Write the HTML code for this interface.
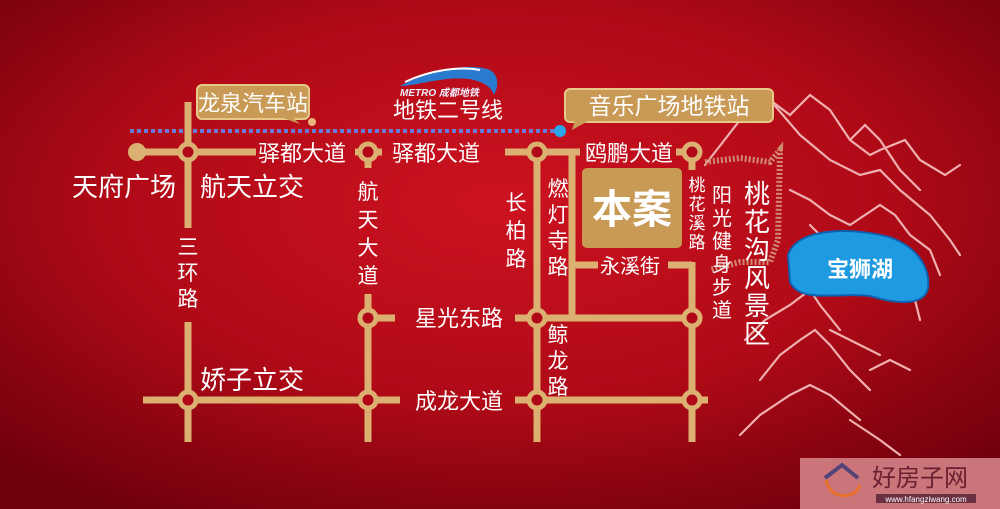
<!DOCTYPE html>
<html><head><meta charset="utf-8"><style>
body{margin:0;width:1000px;height:509px;overflow:hidden;background:#a00010}
svg{display:block}
text{font-family:"Liberation Sans","Noto Sans CJK SC",sans-serif}
</style></head><body>
<svg width="1000" height="509" viewBox="0 0 1000 509">
<defs>
<radialGradient id="bg" cx="0.5" cy="0.4" r="0.7">
<stop offset="0" stop-color="#cc1220"/><stop offset="0.55" stop-color="#b00a17"/><stop offset="1" stop-color="#70000c"/>
</radialGradient>
</defs>
<rect width="1000" height="509" fill="url(#bg)"/>
<!-- mountains -->
<g fill="none" stroke="#f0b0b0" stroke-width="2.2" stroke-linecap="round">
<path d="M705 165 L740 120 L770 100 L790 115 L810 95 L830 110 L850 140 L870 155 L880 150"/>
<path d="M770 100 L800 135 L830 160 L860 175 L880 170 L900 190 L930 215 L950 240 L960 255"/>
<path d="M850 140 L865 125 L880 140 L900 170 L920 190"/>
<path d="M880 150 L905 140 L920 160 L945 175 L960 165"/>
<path d="M790 190 L810 200 L830 215 L850 225 L865 215 L880 205 L895 215 L910 235 L930 250 L940 275"/>
<path d="M810 225 L830 245"/>
<path d="M900 280 L915 300 L920 320"/>
<path d="M745 340 L765 320 L790 305 L810 290 L820 305 L840 330"/>
<path d="M760 380 L780 355 L800 340 L815 330 L830 345 L850 370 L870 390"/>
<path d="M740 435 L760 415 L790 395 L810 385 L830 395 L860 420"/>
<path d="M830 330 L860 345 L880 355"/>
<path d="M870 370 L890 360 L910 370"/>
<path d="M850 420 L880 440 L900 455"/>
</g>
<!-- dashed trail -->
<g fill="none" stroke="#d08a70" stroke-width="6" stroke-dasharray="2 2">
<path d="M705 162 L740 158 L770 162 L780 150 L778 240 L770 262 L740 262 L710 270"/>
</g>
<!-- lake -->
<path d="M788 255 C798 225 860 228 892 238 C922 250 930 272 928 288 C925 305 900 305 870 296 C840 292 800 304 790 282 Z" fill="#1e9ae0" stroke="#1060b0" stroke-width="2"/>
<text x="860" y="277" font-size="22" font-weight="bold" fill="#fff" text-anchor="middle">宝狮湖</text>
<!-- metro line -->
<line x1="130" y1="131" x2="556" y2="131" stroke="#6b7ad8" stroke-width="4" stroke-dasharray="4 3"/>
<circle cx="560" cy="131" r="6" fill="#2aa6e8"/>
<!-- roads -->
<g stroke="#dcb070" stroke-width="7" fill="none">
<line x1="137" y1="152" x2="256" y2="152"/>
<line x1="188" y1="102" x2="188" y2="228"/>
<line x1="188" y1="322" x2="188" y2="442"/>
<line x1="143" y1="400" x2="400" y2="400"/>
<line x1="368" y1="152" x2="368" y2="168"/>
<line x1="355" y1="152" x2="382" y2="152"/>
<line x1="368" y1="294" x2="368" y2="442"/>
<line x1="358" y1="318" x2="395" y2="318"/>
<line x1="505" y1="152" x2="580" y2="152"/>
<line x1="676" y1="152" x2="692" y2="152"/>
<line x1="537" y1="152" x2="537" y2="442"/>
<line x1="572" y1="152" x2="572" y2="318"/>
<line x1="692" y1="152" x2="692" y2="170"/>
<line x1="692" y1="262" x2="692" y2="442"/>
<line x1="572" y1="265" x2="598" y2="265"/>
<line x1="668" y1="265" x2="692" y2="265"/>
<line x1="515" y1="318" x2="700" y2="318"/>
<line x1="515" y1="400" x2="708" y2="400"/>
</g>
<g fill="#b00818" stroke="#dcb070" stroke-width="5">
<circle cx="188" cy="152" r="8"/><circle cx="368" cy="152" r="8"/><circle cx="537" cy="152" r="8"/><circle cx="692" cy="152" r="8"/>
<circle cx="368" cy="318" r="8"/><circle cx="537" cy="318" r="8"/><circle cx="692" cy="318" r="8"/>
<circle cx="188" cy="400" r="8"/><circle cx="368" cy="400" r="8"/><circle cx="537" cy="400" r="8"/><circle cx="692" cy="400" r="8"/>
</g>
<circle cx="137" cy="152" r="9" fill="#dcb070"/>
<!-- callouts -->
<rect x="197" y="85" width="112" height="34" rx="5" fill="#c89a55" stroke="#e8c888" stroke-width="2"/>
<path d="M280 117 L300 124 L292 117Z" fill="#c89a55"/>
<circle cx="312" cy="122" r="4" fill="#e8b880"/>
<text x="253" y="111" font-size="22" fill="#fff" text-anchor="middle">龙泉汽车站</text>
<rect x="565" y="89" width="208" height="33" rx="5" fill="#c89a55" stroke="#e8c888" stroke-width="2"/>
<path d="M575 120 L572 130 L590 120Z" fill="#c89a55"/>
<text x="669" y="114" font-size="23" fill="#fff" text-anchor="middle">音乐广场地铁站</text>
<!-- metro logo -->
<path d="M400 86 C430 70 470 62 490 70 C500 76 498 88 494 95 C490 82 470 75 440 80 C425 82 410 86 400 86Z" fill="#2a7ad0"/>
<path d="M405 82 C430 70 460 66 480 70" stroke="#fff" stroke-width="2" fill="none"/>
<text x="400" y="96" font-size="10" fill="#f0f0ff" font-weight="bold" font-style="italic">METRO 成都地铁</text>
<text x="448" y="118" font-size="22" fill="#fff" text-anchor="middle">地铁二号线</text>
<!-- 本案 -->
<rect x="582" y="168" width="100" height="80" rx="5" fill="#c89a55"/>
<text x="632" y="223" font-size="40" font-weight="bold" fill="#fff" text-anchor="middle">本案</text>
<!-- labels -->
<g fill="#fff">
<text x="72" y="196" font-size="26">天府广场</text>
<text x="200" y="196" font-size="26">航天立交</text>
<text x="258" y="161" font-size="22">驿都大道</text>
<text x="392" y="161" font-size="22">驿都大道</text>
<text x="585" y="161" font-size="22">鸥鹏大道</text>
<text x="200" y="389" font-size="26">娇子立交</text>
<text x="415" y="326" font-size="22">星光东路</text>
<text x="415" y="409" font-size="22">成龙大道</text>
<text x="600" y="273" font-size="20">永溪街</text>
<g font-size="21" text-anchor="middle">
<text x="188" y="254">三</text><text x="188" y="280">环</text><text x="188" y="306">路</text>
<text x="368" y="199">航</text><text x="368" y="227">天</text><text x="368" y="255">大</text><text x="368" y="283">道</text>
<text x="516" y="210">长</text><text x="516" y="238">柏</text><text x="516" y="266">路</text>
<text x="558" y="196">燃</text><text x="558" y="222">灯</text><text x="558" y="248">寺</text><text x="558" y="274">路</text>
<text x="558" y="342">鲸</text><text x="558" y="368">龙</text><text x="558" y="394">路</text>
</g>
<g font-size="17" text-anchor="middle">
<text x="697" y="191">桃</text><text x="697" y="210">花</text><text x="697" y="229">溪</text><text x="697" y="248">路</text>
</g>
<g font-size="20" text-anchor="middle">
<text x="722" y="202">阳</text><text x="722" y="225">光</text><text x="722" y="248">健</text><text x="722" y="271">身</text><text x="722" y="294">步</text><text x="722" y="317">道</text>
</g>
<g font-size="26" text-anchor="middle">
<text x="757" y="203">桃</text><text x="757" y="231">花</text><text x="757" y="259">沟</text><text x="757" y="287">风</text><text x="757" y="315">景</text><text x="757" y="343">区</text>
</g>
</g>
<!-- watermark -->
<rect x="800" y="458" width="200" height="51" fill="#d88a8e" opacity="0.85"/>
<path d="M825 478 L842 465 L858 478" stroke="#554477" stroke-width="4" fill="none"/>
<path d="M826 480 C830 500 855 500 860 485" stroke="#e8702a" stroke-width="3" fill="none"/>
<text x="872" y="486" font-size="24" fill="#6a2030" font-family="Liberation Serif,Noto Serif CJK SC,serif">好房子网</text>
<rect x="876" y="494" width="100" height="9" fill="#6a3040"/>
<text x="926" y="502" font-size="8" fill="#fff" text-anchor="middle">www.hfangziwang.com</text>
</svg>
</body></html>
